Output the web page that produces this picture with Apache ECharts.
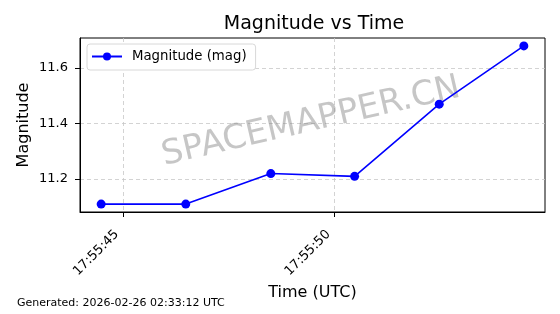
<!DOCTYPE html>
<html><head><meta charset="utf-8">
<script src="https://cdn.jsdelivr.net/npm/echarts@6/dist/echarts.min.js"></script>
<style>html,body{margin:0;padding:0;background:#fff}#c{width:560px;height:314px}</style>
</head><body><div id="c"></div>
<script>
// seconds after 17:55:00 UTC
const timeSeconds = [44.48, 46.48, 48.49, 50.47, 52.47, 54.47];
const magnitudes = [11.11, 11.11, 11.22, 11.21, 11.47, 11.68];
const xTickValues = [45, 50];
const xTickLabels = ['17:55:45', '17:55:50'];
const yTickValues = [11.2, 11.4, 11.6];

const font = 'DejaVu Sans';
const chart = echarts.init(document.getElementById('c'), null, {renderer: 'canvas'});
const xMin = 43.98, xMax = 54.97;
const yMin = 11.0815, yMax = 11.7085;
chart.setOption({
  animation: false,
  title: {text: 'Magnitude vs Time', left: 309, top: 10, textAlign: 'center',
    textStyle: {fontFamily: font, fontSize: 19, fontWeight: 'normal', color: '#000'}},
  grid: {left: 80, right: 15, top: 38, bottom: 102, show: true, borderColor: '#000', borderWidth: 1, backgroundColor: 'transparent'},
  legend: {left: 87, top: 44, data: ['Magnitude (mag)'], itemWidth: 30, itemHeight: 10,
    backgroundColor: '#fff', borderColor: '#d8d8d8', borderWidth: 1, borderRadius: 3, padding: [6, 9, 7, 4],
    textStyle: {fontFamily: font, fontSize: 13.3, color: '#000', padding: [0, 0, 0, 5]}},
  xAxis: {type: 'value', min: xMin, max: xMax,
    name: 'Time (UTC)', nameLocation: 'middle', nameGap: 71,
    nameTextStyle: {fontFamily: font, fontSize: 16, color: '#000'},
    axisLine: {show: true, onZero: false, lineStyle: {color: '#000'}},
    axisTick: {show: true, length: 5, lineStyle: {color: '#000'}, customValues: xTickValues},
    axisLabel: {customValues: xTickValues, rotate: 45, margin: 14, padding: [0, 9, 0, 0], fontFamily: font, fontSize: 13, color: '#000',
      formatter: v => xTickLabels[xTickValues.indexOf(Math.round(v))] || ''},
    splitLine: {show: true, lineStyle: {color: '#c8c8c8', type: [4, 3], width: 0.8}}},
  yAxis: {type: 'value', min: yMin, max: yMax,
    name: 'Magnitude', nameLocation: 'middle', nameGap: 48, nameMoveOverlap: false,
    nameTextStyle: {fontFamily: font, fontSize: 16, color: '#000'},
    axisLine: {show: true, onZero: false, lineStyle: {color: '#000'}},
    axisTick: {show: true, length: 5, lineStyle: {color: '#000'}, customValues: yTickValues},
    axisLabel: {customValues: yTickValues, margin: 12, fontFamily: font, fontSize: 13, color: '#000',
      formatter: v => v.toFixed(1)},
    splitLine: {show: true, lineStyle: {color: '#c8c8c8', type: [4, 3], width: 0.8}}},
  graphic: [
    {type: 'text', left: 17, top: 298, style: {text: 'Generated: 2026-02-26 02:33:12 UTC', fontFamily: font, fontSize: 11, fill: '#000'}},
    {type: 'text', x: 311, y: 122, rotation: 13 * Math.PI / 180, z: 1,
      style: {text: 'SPACEMAPPER.CN', fontFamily: font, fontSize: 34, fill: 'rgba(128,128,128,0.45)', align: 'center', verticalAlign: 'middle'}}
  ],
  series: [{name: 'Magnitude (mag)', type: 'line', data: timeSeconds.map((t, i) => [t, magnitudes[i]]),
    symbol: 'circle', symbolSize: 9, color: '#0000ff', lineStyle: {width: 1.6, color: '#0000ff'},
    itemStyle: {color: '#0000ff'}, z: 5}]
});
</script></body></html>
